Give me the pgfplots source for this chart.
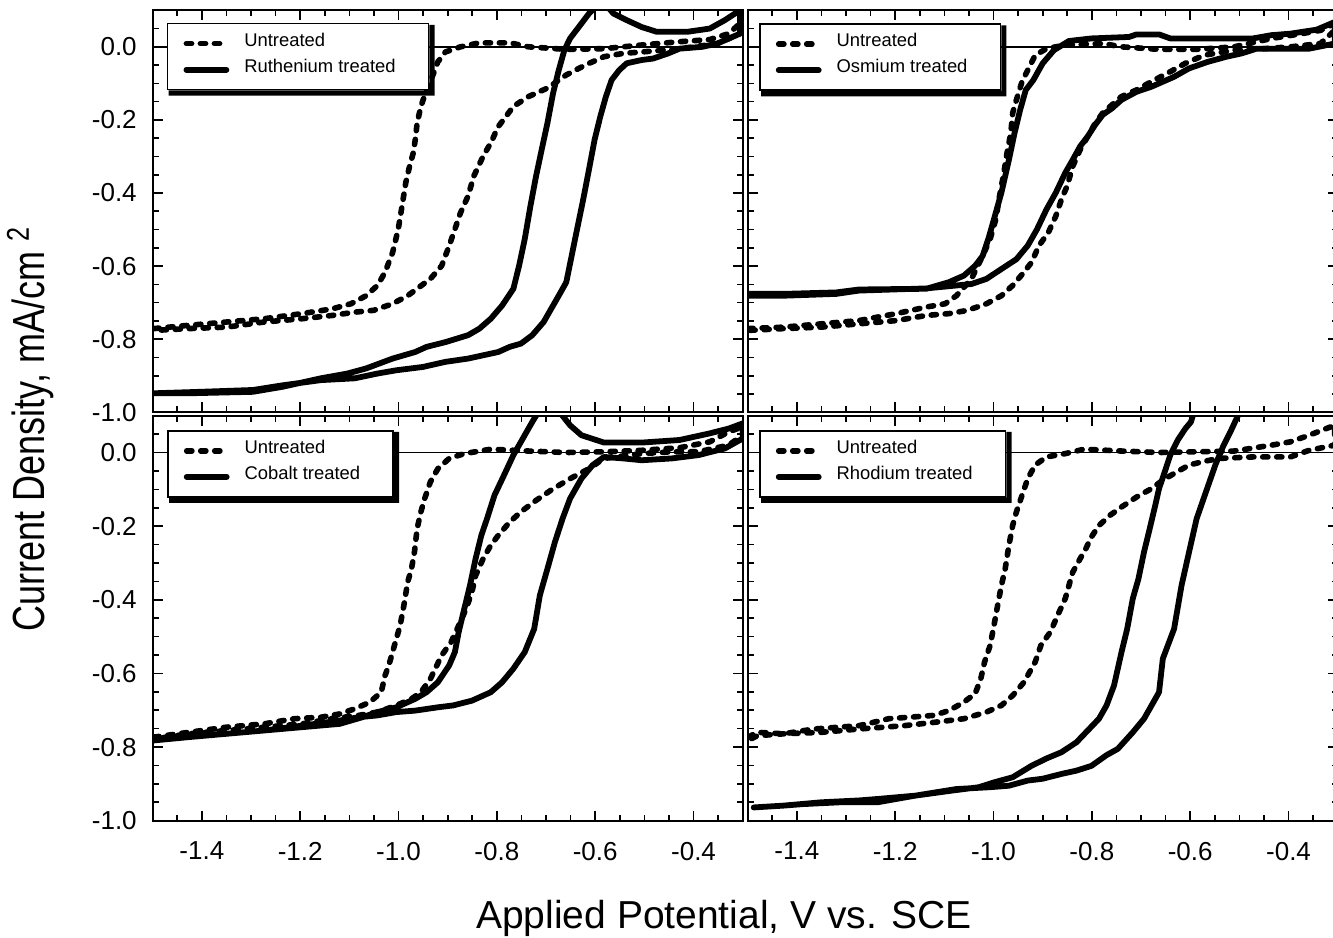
\documentclass[border=0pt]{standalone}
\usepackage{pgfplots}
\pgfplotsset{compat=1.18}
\usepackage{fontspec}
\setmainfont{Liberation Sans}
\usepackage{graphicx}

% thick right/bottom edge of the legend boxes
\newcommand\legshadow[1]{%
  \fill[black] ([yshift=-1pt]#1.north east) -- ([xshift=2.6pt,yshift=-1pt]#1.north east)
    -- ([xshift=2.6pt,yshift=-2.6pt]#1.south east) -- ([xshift=1pt,yshift=-2.6pt]#1.south west)
    -- ([xshift=1pt]#1.south west) -- (#1.south east) -- cycle;}

\pgfplotsset{
  panel/.style={
    scale only axis, width=295pt,
    xmin=-1.5, xmax=-0.3, ymin=-1.0, ymax=0.1,
    xtick={-1.4,-1.2,-1.0,-0.8,-0.6,-0.4},
    ytick={-1.0,-0.8,-0.6,-0.4,-0.2,0.0},
    minor xtick={-1.45,-1.35,-1.3,-1.25,-1.15,-1.1,-1.05,-0.95,-0.9,-0.85,-0.75,-0.7,-0.65,-0.55,-0.5,-0.45,-0.35},
    minor ytick={-0.95,-0.9,-0.85,-0.75,-0.7,-0.65,-0.55,-0.5,-0.45,-0.35,-0.3,-0.25,-0.15,-0.1,-0.05,0.05},
    tick pos=both, tick align=inside,
    major tick length=5pt, minor tick length=3pt,
    every tick/.style={black, line width=0.8pt},
    axis line style={line width=0.9pt},
    xticklabels={}, yticklabels={},
    ticklabel style={font=\fontsize{13}{15}\selectfont},
    xticklabel style={anchor=north, inner sep=0pt, yshift=-10.5pt},
    yticklabel style={anchor=east, inner sep=0pt, xshift=-7.8pt},
    legend cell align=left,
    legend image code/.code={\draw[#1] (0pt,0pt) -- (20pt,0pt);},
    legend style={at={(rel axis cs:0,1)}, anchor=north west,
      draw=black, line width=0.8pt, fill=white,
      inner xsep=8pt, inner ysep=4.6pt, row sep=2.2pt, column sep=7.5pt,
      font=\fontsize{9.2}{11}\selectfont,
      nodes={inner xsep=0pt, inner ysep=0pt, text height=6.6pt, text depth=4.2pt}},
  },
  xlab/.style={xticklabels={-1.4,-1.2,-1.0,-0.8,-0.6,-0.4}},
  ylab/.style={yticklabels={-1.0,-0.8,-0.6,-0.4,-0.2,0.0}},
  untr/.style={black, line width=2.8pt, line cap=round, line join=round, dash pattern=on 2.6pt off 4.4pt},
  trt/.style={black, line width=2.9pt, line cap=round, line join=round},
  zero/.style={black, line width=0.7pt, forget plot},
}

\begin{document}
\begin{tikzpicture}

% top left: ruthenium
\begin{axis}[panel, ylab, height=201pt, at={(76.35pt,262.35pt)}, anchor=south west,
  legend style={xshift=7pt, yshift=-6.3pt, name=legA}]
\addplot[zero] coordinates {(-1.5,0) (-0.3,0)};
\addplot[untr] coordinates {
 (-1.4975,-0.771) (-1.4269,-0.762) (-1.350,-0.753) (-1.2733,-0.744) (-1.1965,-0.730) (-1.135,-0.717)
 (-1.0966,-0.703) (-1.0659,-0.681) (-1.0429,-0.653) (-1.0275,-0.617) (-1.0121,-0.563) (-1.0006,-0.499)
 (-0.9929,-0.436) (-0.9853,-0.372) (-0.9776,-0.327) (-0.970,-0.290) (-0.966,-0.254) (-0.9622,-0.209)
 (-0.9545,-0.163) (-0.943,-0.118) (-0.9315,-0.082) (-0.920,-0.041) (-0.9046,-0.014) (-0.8739,0)
 (-0.8355,0.011) (-0.774,0.011) (-0.7356,0) (-0.6588,-0.007) (-0.582,-0.005) (-0.5052,0.005)
 (-0.4284,0.014) (-0.367,0.020) (-0.3286,0.036) (-0.3055,0.064)
 (-0.3055,0.036) (-0.3516,0.009) (-0.3977,0) (-0.4438,-0.007) (-0.5052,-0.014) (-0.5436,-0.018)
 (-0.582,-0.027) (-0.6204,-0.050) (-0.6588,-0.077) (-0.6972,-0.113) (-0.7356,-0.136) (-0.7664,-0.163)
 (-0.7817,-0.191) (-0.7971,-0.218) (-0.8124,-0.263) (-0.8278,-0.299) (-0.847,-0.354) (-0.8585,-0.408)
 (-0.8739,-0.454) (-0.8854,-0.499) (-0.8969,-0.544) (-0.9123,-0.599) (-0.9353,-0.635) (-0.9584,-0.658)
 (-0.9814,-0.681) (-1.0121,-0.703) (-1.0505,-0.721) (-1.0889,-0.726) (-1.135,-0.735) (-1.1965,-0.744)
 (-1.2733,-0.753) (-1.350,-0.767) (-1.4269,-0.771) (-1.4975,-0.776)};
\addlegendentry{Untreated}
\addplot[trt] coordinates {
 (-1.4975,-0.948) (-1.4269,-0.948) (-1.2963,-0.944) (-1.2349,-0.930) (-1.1581,-0.907) (-1.1043,-0.894)
 (-1.0659,-0.880) (-1.0121,-0.853) (-0.966,-0.835) (-0.943,-0.821) (-0.9046,-0.808) (-0.8585,-0.789)
 (-0.8355,-0.771) (-0.8124,-0.744) (-0.7894,-0.708) (-0.7664,-0.662) (-0.7548,-0.599) (-0.7433,-0.526)
 (-0.7318,-0.436) (-0.7203,-0.354) (-0.7088,-0.281) (-0.6972,-0.209) (-0.6857,-0.127) (-0.6742,-0.064)
 (-0.6627,-0.009) (-0.6511,0.023) (-0.6358,0.050) (-0.6127,0.091) (-0.586,0.127) (-0.5628,0.091)
 (-0.5359,0.073) (-0.5052,0.054) (-0.4745,0.041) (-0.4131,0.041) (-0.367,0.050) (-0.3363,0.073)
 (-0.3055,0.100)
 (-0.3055,0.036) (-0.3516,0.009) (-0.3823,0) (-0.4284,-0.005) (-0.4515,-0.018) (-0.4822,-0.032)
 (-0.5052,-0.036) (-0.5359,-0.045) (-0.5513,-0.064) (-0.5667,-0.091) (-0.5782,-0.136) (-0.5897,-0.191)
 (-0.6012,-0.254) (-0.6127,-0.336) (-0.6243,-0.417) (-0.6396,-0.517) (-0.6588,-0.644) (-0.6742,-0.681)
 (-0.6896,-0.717) (-0.7049,-0.753) (-0.728,-0.789) (-0.751,-0.812) (-0.774,-0.821) (-0.7971,-0.835)
 (-0.8278,-0.844) (-0.8585,-0.853) (-0.9046,-0.862) (-0.9507,-0.876) (-1.0044,-0.885) (-1.0429,-0.894)
 (-1.0889,-0.907) (-1.1581,-0.912) (-1.2349,-0.926) (-1.2963,-0.939) (-1.4038,-0.944) (-1.4975,-0.948)};
\addlegendentry{Ruthenium treated\hspace*{8.5pt}}
\end{axis}
\legshadow{legA}

% top right: osmium
\begin{axis}[panel, height=201pt, at={(373.85pt,262.35pt)}, anchor=south west,
  legend style={xshift=5.65pt, yshift=-6.6pt, name=legB}]
\addplot[zero] coordinates {(-1.5,0) (-0.3,0)};
\addplot[untr] coordinates {
 (-1.4992,-0.771) (-1.4267,-0.767) (-1.3504,-0.758) (-1.274,-0.749) (-1.1977,-0.730) (-1.1366,-0.712)
 (-1.0985,-0.703) (-1.0756,-0.681) (-1.045,-0.635) (-1.0221,-0.572) (-1.0069,-0.526) (-0.9954,-0.472)
 (-0.9878,-0.408) (-0.9802,-0.354) (-0.9725,-0.290) (-0.9649,-0.236) (-0.9611,-0.181) (-0.9534,-0.145)
 (-0.942,-0.095) (-0.9305,-0.064) (-0.9153,-0.023) (-0.8924,-0.005) (-0.8542,0.005) (-0.7779,0.009)
 (-0.7397,0) (-0.6634,-0.007) (-0.587,-0.007) (-0.5107,0) (-0.4344,0.023) (-0.3733,0.036)
 (-0.3351,0.045) (-0.3061,0.064)
 (-0.3061,0.045) (-0.3351,0.009) (-0.3962,0) (-0.4496,-0.005) (-0.5107,-0.009) (-0.5718,-0.023)
 (-0.6099,-0.045) (-0.6405,-0.068) (-0.6786,-0.095) (-0.7092,-0.118) (-0.7397,-0.136) (-0.755,-0.154)
 (-0.7779,-0.181) (-0.7931,-0.209) (-0.8084,-0.245) (-0.8237,-0.281) (-0.8389,-0.327) (-0.8504,-0.381)
 (-0.8618,-0.417) (-0.8733,-0.463) (-0.8885,-0.508) (-0.9076,-0.544) (-0.9229,-0.590) (-0.9382,-0.617)
 (-0.9611,-0.653) (-0.984,-0.681) (-1.0145,-0.703) (-1.0527,-0.721) (-1.0908,-0.730) (-1.1366,-0.735)
 (-1.1977,-0.749) (-1.274,-0.758) (-1.3504,-0.767) (-1.4267,-0.771) (-1.4992,-0.776)};
\addlegendentry{Untreated}
\addplot[trt] coordinates {
 (-1.4992,-0.676) (-1.4267,-0.676) (-1.3198,-0.672) (-1.274,-0.664) (-1.1366,-0.662) (-1.0908,-0.644)
 (-1.0603,-0.626) (-1.0374,-0.599) (-1.0221,-0.572) (-1.0107,-0.526) (-0.9992,-0.472) (-0.984,-0.399)
 (-0.9687,-0.309) (-0.9573,-0.236) (-0.9458,-0.172) (-0.9344,-0.118) (-0.9191,-0.091) (-0.9,-0.045)
 (-0.8771,-0.009) (-0.8466,0.016) (-0.8008,0.023) (-0.7244,0.027) (-0.7092,0.034) (-0.6634,0.034)
 (-0.6405,0.023) (-0.4725,0.023) (-0.4344,0.032) (-0.3962,0.036) (-0.3427,0.047) (-0.3061,0.068)
 (-0.3061,0.009) (-0.358,-0.005) (-0.4649,-0.005) (-0.4954,-0.018) (-0.526,-0.027) (-0.5641,-0.041)
 (-0.6023,-0.059) (-0.6328,-0.082) (-0.6786,-0.109) (-0.7092,-0.123) (-0.7397,-0.145) (-0.7588,-0.168)
 (-0.7779,-0.186) (-0.7931,-0.213) (-0.8084,-0.245) (-0.8237,-0.272) (-0.8389,-0.309) (-0.8542,-0.345)
 (-0.8733,-0.399) (-0.8924,-0.445) (-0.9115,-0.499) (-0.9305,-0.544) (-0.9534,-0.581) (-0.984,-0.608)
 (-1.0145,-0.635) (-1.045,-0.649) (-1.0756,-0.653) (-1.1366,-0.661) (-1.274,-0.667) (-1.3198,-0.676)
 (-1.4267,-0.681) (-1.4992,-0.681)};
\addlegendentry{Osmium treated\hspace*{8.5pt}}
\end{axis}
\legshadow{legB}

% bottom left: cobalt
\begin{axis}[panel, xlab, ylab, height=202.5pt, at={(76.35pt,58.15pt)}, anchor=south west,
  legend style={xshift=7.15pt, yshift=-7.15pt, name=legC}]
\addplot[zero] coordinates {(-1.5,0) (-0.3,0)};
\addplot[untr] coordinates {
 (-1.4975,-0.773) (-1.4269,-0.760) (-1.3501,-0.746) (-1.2733,-0.737) (-1.2118,-0.723) (-1.1581,-0.719)
 (-1.1197,-0.710) (-1.0889,-0.696) (-1.0582,-0.678) (-1.0352,-0.651) (-1.0275,-0.606) (-1.0198,-0.578)
 (-1.0083,-0.524) (-0.9968,-0.470) (-0.9891,-0.415) (-0.9814,-0.352) (-0.9737,-0.316) (-0.9676,-0.270)
 (-0.9622,-0.207) (-0.9545,-0.161) (-0.9468,-0.125) (-0.9353,-0.080) (-0.92,-0.044) (-0.8969,-0.016)
 (-0.8662,-0.003) (-0.8124,0.009) (-0.7356,0.004) (-0.6588,0) (-0.582,0.002) (-0.5052,0.006)
 (-0.4284,0.013) (-0.367,0.029) (-0.3286,0.056) (-0.3,0.070)
 (-0.3,0.047) (-0.3286,0.020) (-0.39,0.002) (-0.4438,0.002) (-0.5052,-0.003) (-0.582,-0.016)
 (-0.6127,-0.044) (-0.6511,-0.071) (-0.6896,-0.102) (-0.7203,-0.130) (-0.751,-0.161) (-0.774,-0.189)
 (-0.7971,-0.225) (-0.8124,-0.252) (-0.8278,-0.288) (-0.8432,-0.334) (-0.8508,-0.379) (-0.8624,-0.424)
 (-0.8777,-0.470) (-0.8931,-0.515) (-0.9123,-0.551) (-0.9353,-0.615) (-0.9545,-0.651) (-0.9737,-0.669)
 (-1.0045,-0.687) (-1.0429,-0.705) (-1.0813,-0.714) (-1.135,-0.723) (-1.1965,-0.737) (-1.2733,-0.746)
 (-1.3501,-0.755) (-1.4269,-0.764) (-1.4975,-0.778)};
\addlegendentry{Untreated}
\addplot[trt] coordinates {
 (-1.4975,-0.778) (-1.4269,-0.769) (-1.3501,-0.764) (-1.2733,-0.755) (-1.1965,-0.746) (-1.1197,-0.737)
 (-1.0736,-0.719) (-1.0429,-0.705) (-1.0045,-0.692) (-0.966,-0.669) (-0.943,-0.651) (-0.92,-0.624)
 (-0.8969,-0.578) (-0.8854,-0.542) (-0.8777,-0.488) (-0.8662,-0.424) (-0.8547,-0.361) (-0.8432,-0.288)
 (-0.8316,-0.225) (-0.8201,-0.180) (-0.8048,-0.116) (-0.7856,-0.062) (-0.7664,-0.007) (-0.7472,0.038)
 (-0.728,0.083) (-0.7203,0.100) (-0.6934,0.138) (-0.6665,0.100) (-0.6511,0.074) (-0.6281,0.047)
 (-0.582,0.027) (-0.5052,0.027) (-0.4284,0.034) (-0.367,0.052) (-0.3286,0.065) (-0.3,0.079)
 (-0.3,0.038) (-0.3363,0.011) (-0.39,-0.007) (-0.4438,-0.016) (-0.5052,-0.021) (-0.5436,-0.016)
 (-0.582,-0.012) (-0.6051,-0.034) (-0.6281,-0.071) (-0.6511,-0.125) (-0.6665,-0.180) (-0.6819,-0.243)
 (-0.6972,-0.316) (-0.7126,-0.388) (-0.7241,-0.479) (-0.7433,-0.542) (-0.7664,-0.587) (-0.7894,-0.624)
 (-0.8124,-0.651) (-0.8508,-0.674) (-0.8892,-0.687) (-0.92,-0.692) (-0.966,-0.701) (-1.0045,-0.705)
 (-1.0429,-0.714) (-1.0813,-0.719) (-1.1197,-0.728) (-1.1965,-0.742) (-1.2733,-0.755) (-1.3501,-0.764)
 (-1.4269,-0.773) (-1.4975,-0.782)};
\addlegendentry{Cobalt treated\hspace*{8.5pt}}
\end{axis}
\legshadow{legC}

% bottom right: rhodium
\begin{axis}[panel, xlab, height=202.5pt, at={(373.85pt,58.15pt)}, anchor=south west,
  legend style={xshift=5.65pt, yshift=-7.15pt, name=legD}]
\addplot[zero] coordinates {(-1.5,0) (-0.3,0)};
\addplot[untr] coordinates {
 (-1.4992,-0.773) (-1.4802,-0.760) (-1.4267,-0.764) (-1.3656,-0.751) (-1.274,-0.742) (-1.213,-0.723)
 (-1.1214,-0.714) (-1.0908,-0.701) (-1.0603,-0.678) (-1.0374,-0.655) (-1.026,-0.615) (-1.0183,-0.569)
 (-1.0069,-0.524) (-0.9992,-0.470) (-0.9916,-0.415) (-0.984,-0.361) (-0.9763,-0.316) (-0.9687,-0.252)
 (-0.9611,-0.198) (-0.9534,-0.161) (-0.942,-0.116) (-0.9305,-0.071) (-0.9153,-0.034) (-0.8924,-0.012)
 (-0.8542,-0.003) (-0.816,0.009) (-0.7397,0.004) (-0.6634,0) (-0.587,0.002) (-0.5107,0.004)
 (-0.4344,0.020) (-0.3962,0.029) (-0.358,0.047) (-0.3061,0.074)
 (-0.3061,0.020) (-0.358,0.006) (-0.3962,-0.012) (-0.4725,-0.012) (-0.5412,-0.016) (-0.5718,-0.024)
 (-0.6023,-0.034) (-0.6328,-0.057) (-0.6557,-0.075) (-0.6786,-0.098) (-0.7092,-0.121) (-0.7397,-0.148)
 (-0.7626,-0.170) (-0.7855,-0.198) (-0.8008,-0.229) (-0.8122,-0.261) (-0.8237,-0.288) (-0.8389,-0.325)
 (-0.8466,-0.361) (-0.8542,-0.397) (-0.8695,-0.442) (-0.8847,-0.488) (-0.9038,-0.524) (-0.9153,-0.569)
 (-0.9382,-0.624) (-0.9611,-0.660) (-0.984,-0.687) (-1.0145,-0.705) (-1.0603,-0.723) (-1.1214,-0.733)
 (-1.1824,-0.742) (-1.274,-0.751) (-1.3504,-0.760) (-1.4267,-0.764) (-1.4802,-0.769) (-1.4992,-0.782)};
\addlegendentry{Untreated}
\addplot[trt] coordinates {
 (-1.4878,-0.964) (-1.4267,-0.959) (-1.3504,-0.950) (-1.274,-0.945) (-1.2359,-0.941) (-1.1595,-0.932)
 (-1.0832,-0.918) (-1.0298,-0.909) (-0.9992,-0.896) (-0.9611,-0.882) (-0.9229,-0.851) (-0.8924,-0.831)
 (-0.8618,-0.814) (-0.8313,-0.787) (-0.8084,-0.755) (-0.7855,-0.723) (-0.7702,-0.687) (-0.755,-0.633)
 (-0.7397,-0.542) (-0.7282,-0.479) (-0.7168,-0.397) (-0.7053,-0.343) (-0.6939,-0.270) (-0.6824,-0.207)
 (-0.671,-0.143) (-0.6634,-0.098) (-0.6519,-0.053) (-0.6405,-0.007) (-0.6252,0.034) (-0.6099,0.065)
 (-0.5985,0.083) (-0.5947,0.100) (-0.5489,0.165)
 (-0.503,0.100) (-0.5183,0.056) (-0.5336,0.015) (-0.5489,-0.034) (-0.568,-0.107) (-0.587,-0.180)
 (-0.6023,-0.270) (-0.6176,-0.361) (-0.6328,-0.479) (-0.6557,-0.560) (-0.6634,-0.651) (-0.6786,-0.687)
 (-0.6939,-0.723) (-0.7168,-0.760) (-0.7473,-0.805) (-0.7702,-0.822) (-0.8008,-0.851) (-0.8313,-0.864)
 (-0.8618,-0.873) (-0.9,-0.886) (-0.9305,-0.891) (-0.9687,-0.905) (-1.0069,-0.909) (-1.0756,-0.914)
 (-1.1595,-0.932) (-1.2359,-0.950) (-1.3122,-0.950) (-1.3885,-0.955) (-1.4267,-0.959) (-1.4878,-0.964)};
\addlegendentry{Rhodium treated\hspace*{8.5pt}}
\end{axis}
\legshadow{legD}

\node[anchor=base, font=\fontsize{19.5}{22}\selectfont] at (362pt,4.5pt) {Applied Potential, V vs. SCE};
\node[rotate=90, anchor=base, font=\fontsize{22.5}{26}\selectfont] at (22pt,254pt)
  {\scalebox{0.8}[1]{Current Density, mA/cm \textsuperscript{2}}};

\pgfresetboundingbox
\useasboundingbox (0,0) rectangle (666.5pt,468.5pt);
\end{tikzpicture}
\end{document}
